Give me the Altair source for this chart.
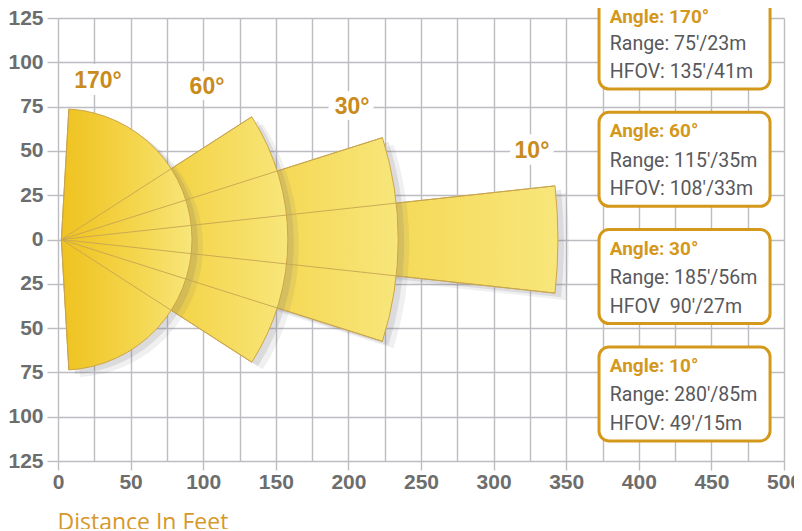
import math
import altair as alt
import pandas as pd

# ---------------- values ----------------
fan_angles = [170, 60, 30, 10]                 # nominal spread (deg)
fan_labels = ["170°", "60°", "30°", "10°"]
fan_reach_ft = [90, 156, 232, 342]             # drawn reach along the axis (feet)
fan_half_deg = [86.7, 32.8, 17.6, 6.2]         # drawn half-spread on the page (deg)
apex_ft = 2.3                                  # apex of the fans on the x axis

legend_titles = ["Angle: 170°", "Angle: 60°", "Angle: 30°", "Angle: 10°"]
legend_ranges = ["Range: 75′/23m", "Range: 115′/35m", "Range: 185′/56m", "Range: 280′/85m"]
legend_hfov = ["HFOV: 135′/41m", "HFOV: 108′/33m", "HFOV\u00a0\u00a090′/27m", "HFOV: 49′/15m"]

x_ticks = list(range(0, 501, 25))
y_ticks = list(range(-125, 126, 25))

# ---------------- layout / style ----------------
W, H = 726, 443
KX = W / 500.0
KY = H / 250.0
GRID = "#bdbcc1"
GOLD = "#d4981a"
LABEL_GOLD = "#c98b1c"
TICK_GRAY = "#6d6d6d"
TEXT_GRAY = "#58585b"
BOX_FONT = "Roboto"

# fan label positions (data units)
fan_label_x = [27.5, 102.6, 202.5, 326.4]
fan_label_y = [89.4, 86.1, 74.8, 49.9]


def page_to_y(py):
    return 125 - (py - 18) / KY


fans = pd.DataFrame({
    "angle": fan_angles,
    "cx": [apex_ft] * 4,
    "cy": [0] * 4,
    "r": fan_reach_ft,
    "t0": [math.pi / 2 - math.radians(h) for h in fan_half_deg],
    "t1": [math.pi / 2 + math.radians(h) for h in fan_half_deg],
})

ray_rows = []
for a, r, h in zip(fan_angles, fan_reach_ft, fan_half_deg):
    for s in (1, -1):
        ray_rows.append({
            "angle": a, "x": apex_ft, "y": 0,
            "x2": apex_ft + r * math.cos(math.radians(h)),
            "y2": s * r * math.sin(math.radians(h)) * KX / KY,
        })
rays = pd.DataFrame(ray_rows)

labels_df = pd.DataFrame({"text": fan_labels, "x": fan_label_x, "y": fan_label_y})

box_left_x, box_right_x = 372.6, 490.4
box_rows, title_rows, info_rows = [], [], []
for i in range(4):
    top = -5 + 117.3 * i
    box_rows.append({"x0": box_left_x, "x1": box_right_x,
                     "y0": page_to_y(top), "y1": page_to_y(top + 94)})
    title_off = 28 if i == 0 else 25
    title_rows.append({"text": legend_titles[i], "x": 380.0, "y": page_to_y(top + title_off)})
    info_rows.append({"text": legend_ranges[i], "x": 380.0, "y": page_to_y(top + 54.5)})
    info_rows.append({"text": legend_hfov[i], "x": 380.0, "y": page_to_y(top + 83)})
boxes = pd.DataFrame(box_rows)
box_titles = pd.DataFrame(title_rows)
box_info = pd.DataFrame(info_rows)

# ---------------- scales & axes ----------------
xs = alt.Scale(domain=[0, 500], nice=False, zero=False)
ys = alt.Scale(domain=[-125, 125], nice=False, zero=False)
rs = alt.Scale(type="linear", domain=[0, 500], range=[0, W], zero=True)

x_axis = alt.Axis(
    values=x_ticks,
    labelExpr="datum.value % 50 === 0 ? datum.label : ''",
    grid=True, gridColor=GRID, gridWidth=1.4,
    domain=False,
    tickColor={"condition": {"test": "datum.value % 50 === 0", "value": GRID}, "value": "transparent"},
    tickWidth=1.4, tickSize=9,
    labelFont="Liberation Sans", labelFontWeight="bold", labelFontSize=21,
    labelColor=TICK_GRAY, labelPadding=1, labelFlush=False, labelOverlap=False,
    title="Distance In Feet",
    titleFont="Open Sans", titleFontWeight="normal", titleFontSize=23,
    titleColor="#d6982c", titleAnchor="start", titleAlign="left",
    titleX=-1, titleY=68, titleBaseline="alphabetic",
)
y_axis = alt.Axis(
    values=y_ticks,
    labelExpr="'' + abs(datum.value)",
    grid=True, gridColor=GRID, gridWidth=1.4,
    domain=False,
    tickColor=GRID, tickWidth=1.4, tickSize=11,
    labelFont="Liberation Sans", labelFontWeight="bold", labelFontSize=21,
    labelColor=TICK_GRAY, labelPadding=4, labelFlush=False, labelOverlap=False,
    title="",
)

X = lambda f: alt.X(f, type="quantitative", scale=xs, axis=x_axis)
Y = lambda f: alt.Y(f, type="quantitative", scale=ys, axis=y_axis)

fan_fill = {
    "gradient": "linear", "x1": 0, "y1": 0, "x2": 1, "y2": 0,
    "stops": [
        {"offset": 0, "color": "#efc21f"},
        {"offset": 0.55, "color": "#f4d54b"},
        {"offset": 1, "color": "#f8e67b"},
    ],
}

layers = []
for a in [10, 30, 60, 170]:
    base = alt.Chart(fans).transform_filter(alt.datum.angle == a)
    enc = dict(
        x=X("cx"), y=Y("cy"),
        theta=alt.Theta("t0:Q", scale=None), theta2="t1:Q",
        radius=alt.Radius("r:Q", scale=rs),
    )
    layers.append(base.mark_arc(fill="#70707a", opacity=0.10, xOffset=11, yOffset=7).encode(**enc))
    layers.append(base.mark_arc(fill="#70707a", opacity=0.16, xOffset=6, yOffset=4).encode(**enc))
    layers.append(base.mark_arc(fill=fan_fill, stroke="#cda643", strokeWidth=1).encode(**enc))

layers.append(
    alt.Chart(rays).mark_rule(color="#c6a552", strokeWidth=0.9).encode(
        x=X("x"), y=Y("y"), x2="x2:Q", y2="y2:Q")
)

layers.append(
    alt.Chart(labels_df).mark_text(
        font="Liberation Sans", fontWeight="bold", fontSize=23, align="center",
        baseline="middle", stroke="white", strokeWidth=14, strokeJoin="round", fill="white",
    ).encode(x=X("x"), y=Y("y"), text="text:N")
)
layers.append(
    alt.Chart(labels_df).mark_text(
        font="Liberation Sans", fontWeight="bold", fontSize=23, align="center",
        baseline="middle", color=LABEL_GOLD,
    ).encode(x=X("x"), y=Y("y"), text="text:N")
)

layers.append(
    alt.Chart(boxes).mark_rect(fill="white", stroke=GOLD, strokeWidth=3, cornerRadius=10).encode(
        x=X("x0"), x2="x1:Q", y=Y("y0"), y2="y1:Q")
)
layers.append(
    alt.Chart(box_titles).mark_text(
        font=BOX_FONT, fontWeight="bold", fontSize=19, align="left",
        baseline="alphabetic", color=GOLD,
    ).encode(x=X("x"), y=Y("y"), text="text:N")
)
layers.append(
    alt.Chart(box_info).mark_text(
        font=BOX_FONT, fontSize=19.5, align="left", baseline="alphabetic", color=TEXT_GRAY,
    ).encode(x=X("x"), y=Y("y"), text="text:N")
)

chart = alt.layer(*layers).properties(
    width=W, height=H,
    autosize=alt.AutoSizeParams(type="none"),
    padding={"left": 50, "top": 10, "right": 10, "bottom": 68},
    background="white",
).configure_view(strokeWidth=0)

chart.save("out.html", embed_options={"renderer": "svg", "actions": False})
